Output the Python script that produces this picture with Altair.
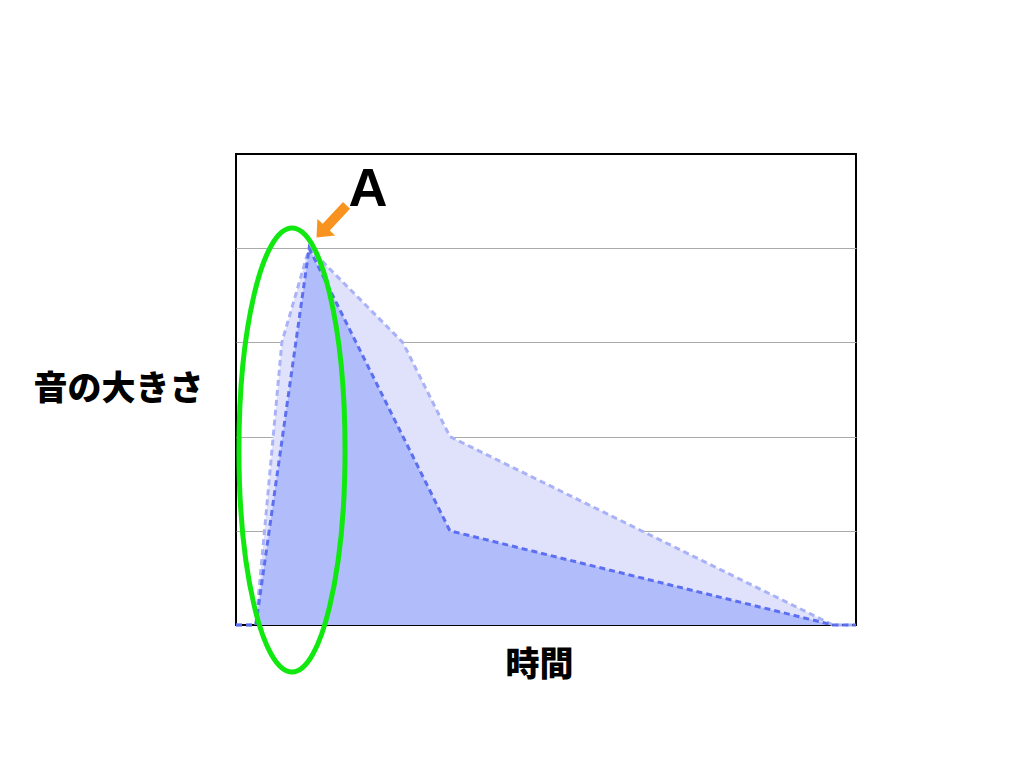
import altair as alt
import pandas as pd

# Data (arbitrary time units 0-100, loudness 0-5)
light_t = [0, 3.2, 7.4, 11.8, 26.9, 34.5, 96.3, 100]
light_v = [0, 0, 3, 4, 3, 2, 0, 0]
dark_t = [0, 3.2, 11.8, 34.5, 96.3, 100]
dark_v = [0, 0, 4, 1, 0, 0]

light = pd.DataFrame({"t": light_t, "v": light_v})
dark = pd.DataFrame({"t": dark_t, "v": dark_v})
dummy = pd.DataFrame({"a": [0]})

FONT_JP = "Noto Sans CJK JP"
W, H = 620, 471

xs = alt.Scale(domain=[0, 100], nice=False, zero=False)
ys = alt.Scale(domain=[0, 5], nice=False)

x_axis = alt.Axis(grid=False, labels=False, ticks=False, domain=False,
                  title="時間", titleFont=FONT_JP, titleFontSize=34,
                  titleFontWeight=900, titleColor="black",
                  titleX=303, titleY=40, titleAlign="center",
                  titleBaseline="middle", titleAnchor="start")
y_axis = alt.Axis(grid=True, gridColor="#aaaaaa", gridWidth=1,
                  values=[1, 2, 3, 4], labels=False, ticks=False,
                  domain=False, title="音の大きさ", titleAngle=0,
                  titleFont=FONT_JP, titleFontSize=34,
                  titleFontWeight=900, titleColor="black",
                  titleX=-118, titleY=235, titleAlign="center",
                  titleBaseline="middle", titleAnchor="start")

light_area = alt.Chart(light).mark_area(fill="#e0e2fc", opacity=1).encode(
    x=alt.X("t:Q", scale=xs, axis=x_axis),
    y=alt.Y("v:Q", scale=ys, axis=y_axis, stack=None),
)
dark_area = alt.Chart(dark).mark_area(fill="#b1bcfb", opacity=1).encode(
    x=alt.X("t:Q", scale=xs), y=alt.Y("v:Q", scale=ys, stack=None)
)
light_line = alt.Chart(light).mark_line(
    color="#a9b2f6", strokeWidth=3, strokeDash=[6, 4]
).encode(x=alt.X("t:Q", scale=xs), y=alt.Y("v:Q", scale=ys))
dark_line = alt.Chart(dark).mark_line(
    color="#5b6ff0", strokeWidth=3, strokeDash=[6, 4]
).encode(x=alt.X("t:Q", scale=xs), y=alt.Y("v:Q", scale=ys))

ellipse_path = "M0,-1A0.239,1,0,1,1,0,1A0.239,1,0,1,1,0,-1Z"
ellipse = alt.Chart(dummy).mark_point(
    shape=ellipse_path, filled=False, stroke="#10e810", strokeWidth=5,
    size=444 * 444, opacity=1
).encode(x=alt.value(56), y=alt.value(296))

arrow_path = "M0,-1L0.55,-0.35L0.22,-0.35L0.22,1L-0.22,1L-0.22,-0.35L-0.55,-0.35Z"
arrow = alt.Chart(dummy).mark_point(
    shape=arrow_path, filled=True, fill="#f8931f", strokeWidth=0,
    size=44 * 44, angle=223, opacity=1
).encode(x=alt.value(95.5), y=alt.value(67.5))

label_a = alt.Chart(dummy).mark_text(
    text="A", font="Liberation Sans", fontSize=54, fontWeight="bold",
    color="black", align="center", baseline="middle"
).encode(x=alt.value(132), y=alt.value(36))

chart = alt.layer(
    light_area, dark_area, light_line, dark_line, ellipse, arrow, label_a
).properties(
    width=W, height=H,
    padding={"left": 228, "top": 146, "right": 20, "bottom": 120},
    autosize=alt.AutoSizeParams(type="none"),
    background="white",
).configure_view(stroke="black", strokeWidth=2)

chart.save("out.html", embed_options={"renderer": "svg", "actions": False})
